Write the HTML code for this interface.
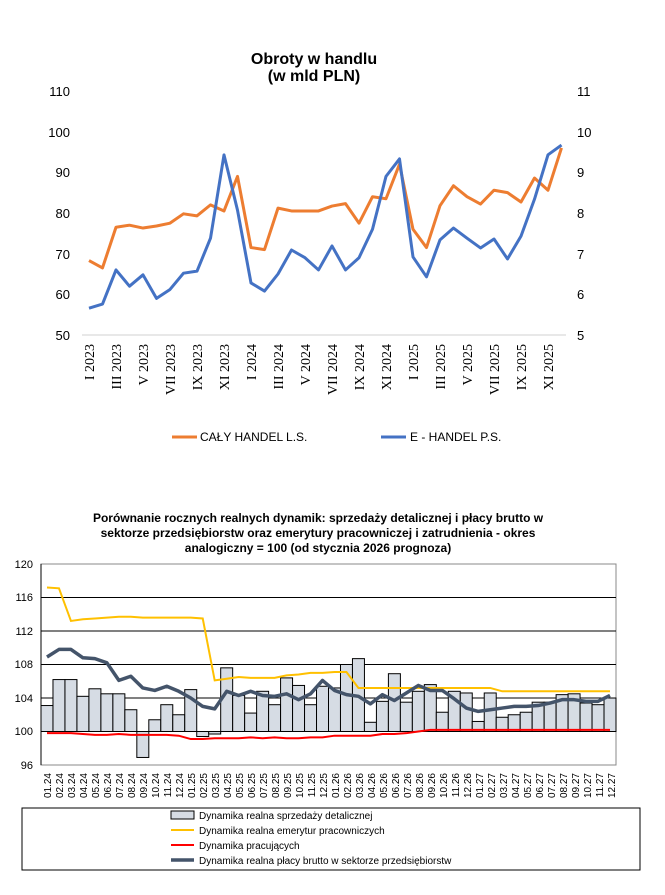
<!DOCTYPE html>
<html><head><meta charset="utf-8"><style>
body{margin:0;background:#fff;}
svg{display:block;font-family:"Liberation Sans",sans-serif;}
</style></head><body>
<svg width="665" height="895" viewBox="0 0 665 895" xmlns="http://www.w3.org/2000/svg">
<rect width="665" height="895" fill="#fff"/>
<text x="314" y="64" text-anchor="middle" font-weight="bold" font-size="16">Obroty w handlu</text>
<text x="314" y="81" text-anchor="middle" font-weight="bold" font-size="16">(w mld PLN)</text>
<line x1="82" y1="335" x2="566" y2="335" stroke="#d0d0d0" stroke-width="1"/>
<g font-size="13" text-anchor="end">
<text x="70" y="96">110</text><text x="70" y="137">100</text><text x="70" y="177">90</text><text x="70" y="218">80</text><text x="70" y="259">70</text><text x="70" y="299">60</text><text x="70" y="340">50</text>
</g>
<g font-size="13" text-anchor="start">
<text x="577" y="96">11</text><text x="577" y="137">10</text><text x="577" y="177">9</text><text x="577" y="218">8</text><text x="577" y="259">7</text><text x="577" y="299">6</text><text x="577" y="340">5</text>
</g>
<g font-family="Liberation Serif, serif" font-size="14" text-anchor="end">
<text transform="translate(94,344) rotate(-90)">I 2023</text>
<text transform="translate(121,344) rotate(-90)">III 2023</text>
<text transform="translate(148,344) rotate(-90)">V 2023</text>
<text transform="translate(175,344) rotate(-90)">VII 2023</text>
<text transform="translate(202,344) rotate(-90)">IX 2023</text>
<text transform="translate(229,344) rotate(-90)">XI 2023</text>
<text transform="translate(256,344) rotate(-90)">I 2024</text>
<text transform="translate(283,344) rotate(-90)">III 2024</text>
<text transform="translate(310,344) rotate(-90)">V 2024</text>
<text transform="translate(337,344) rotate(-90)">VII 2024</text>
<text transform="translate(364,344) rotate(-90)">IX 2024</text>
<text transform="translate(391,344) rotate(-90)">XI 2024</text>
<text transform="translate(418,344) rotate(-90)">I 2025</text>
<text transform="translate(445,344) rotate(-90)">III 2025</text>
<text transform="translate(472,344) rotate(-90)">V 2025</text>
<text transform="translate(499,344) rotate(-90)">VII 2025</text>
<text transform="translate(526,344) rotate(-90)">IX 2025</text>
<text transform="translate(553,344) rotate(-90)">XI 2025</text>
</g>
<polyline id="orange" fill="none" stroke="#ED7D31" stroke-width="3" stroke-linejoin="round"/>
<polyline id="blue" fill="none" stroke="#4472C4" stroke-width="3" stroke-linejoin="round"/>
<line x1="172" y1="437" x2="197" y2="437" stroke="#ED7D31" stroke-width="3"/>
<text x="200" y="441" font-size="12">CAŁY HANDEL L.S.</text>
<line x1="381" y1="437" x2="406" y2="437" stroke="#4472C4" stroke-width="3"/>
<text x="410" y="441" font-size="12">E - HANDEL P.S.</text>

<g font-weight="bold" font-size="12" text-anchor="middle">
<text x="318" y="522">Porównanie rocznych realnych dynamik: sprzedaży detalicznej i płacy brutto w</text>
<text x="318" y="537">sektorze przedsiębiorstw oraz emerytury pracowniczej i zatrudnienia - okres</text>
<text x="318" y="552">analogiczny = 100 (od stycznia 2026 prognoza)</text>
</g>
<rect x="41" y="564" width="575" height="201" fill="none" stroke="#888" stroke-width="1"/>
<g stroke="#000" stroke-width="1">
<line x1="41" y1="597.5" x2="616" y2="597.5"/><line x1="41" y1="631" x2="616" y2="631"/><line x1="41" y1="664.5" x2="616" y2="664.5"/><line x1="41" y1="698" x2="616" y2="698"/>
</g>
<g id="bars"></g>
<line x1="41" y1="731.5" x2="616" y2="731.5" stroke="#000" stroke-width="1"/>
<line x1="41" y1="564" x2="41" y2="765" stroke="#000" stroke-width="1"/>
<polyline id="yellow" fill="none" stroke="#FFC000" stroke-width="2"/>
<polyline id="red" fill="none" stroke="#FF0000" stroke-width="2"/>
<polyline id="dark" fill="none" stroke="#44546A" stroke-width="3.5" stroke-linejoin="round"/>
<g font-size="11" text-anchor="end">
<text x="33" y="568">120</text><text x="33" y="601">116</text><text x="33" y="635">112</text><text x="33" y="668">108</text><text x="33" y="702">104</text><text x="33" y="735">100</text><text x="33" y="769">96</text>
</g>
<g font-size="10" text-anchor="end">
<text transform="translate(51,773) rotate(-90)">01.24</text><text transform="translate(63,773) rotate(-90)">02.24</text><text transform="translate(75,773) rotate(-90)">03.24</text><text transform="translate(87,773) rotate(-90)">04.24</text><text transform="translate(99,773) rotate(-90)">05.24</text><text transform="translate(111,773) rotate(-90)">06.24</text><text transform="translate(123,773) rotate(-90)">07.24</text><text transform="translate(135,773) rotate(-90)">08.24</text><text transform="translate(147,773) rotate(-90)">09.24</text><text transform="translate(159,773) rotate(-90)">10.24</text><text transform="translate(171,773) rotate(-90)">11.24</text><text transform="translate(183,773) rotate(-90)">12.24</text>
<text transform="translate(195,773) rotate(-90)">01.25</text><text transform="translate(207,773) rotate(-90)">02.25</text><text transform="translate(219,773) rotate(-90)">03.25</text><text transform="translate(231,773) rotate(-90)">04.25</text><text transform="translate(243,773) rotate(-90)">05.25</text><text transform="translate(255,773) rotate(-90)">06.25</text><text transform="translate(267,773) rotate(-90)">07.25</text><text transform="translate(279,773) rotate(-90)">08.25</text><text transform="translate(291,773) rotate(-90)">09.25</text><text transform="translate(303,773) rotate(-90)">10.25</text><text transform="translate(315,773) rotate(-90)">11.25</text><text transform="translate(327,773) rotate(-90)">12.25</text>
<text transform="translate(339,773) rotate(-90)">01.26</text><text transform="translate(351,773) rotate(-90)">02.26</text><text transform="translate(363,773) rotate(-90)">03.26</text><text transform="translate(375,773) rotate(-90)">04.26</text><text transform="translate(387,773) rotate(-90)">05.26</text><text transform="translate(399,773) rotate(-90)">06.26</text><text transform="translate(411,773) rotate(-90)">07.26</text><text transform="translate(423,773) rotate(-90)">08.26</text><text transform="translate(435,773) rotate(-90)">09.26</text><text transform="translate(447,773) rotate(-90)">10.26</text><text transform="translate(459,773) rotate(-90)">11.26</text><text transform="translate(471,773) rotate(-90)">12.26</text>
<text transform="translate(483,773) rotate(-90)">01.27</text><text transform="translate(495,773) rotate(-90)">02.27</text><text transform="translate(507,773) rotate(-90)">03.27</text><text transform="translate(519,773) rotate(-90)">04.27</text><text transform="translate(531,773) rotate(-90)">05.27</text><text transform="translate(543,773) rotate(-90)">06.27</text><text transform="translate(555,773) rotate(-90)">07.27</text><text transform="translate(567,773) rotate(-90)">08.27</text><text transform="translate(579,773) rotate(-90)">09.27</text><text transform="translate(591,773) rotate(-90)">10.27</text><text transform="translate(603,773) rotate(-90)">11.27</text><text transform="translate(615,773) rotate(-90)">12.27</text>
</g>
<rect x="22" y="808" width="618" height="62" fill="none" stroke="#000" stroke-width="1"/>
<rect x="171" y="811" width="23" height="8" fill="#D6DCE4" stroke="#000" stroke-width="1"/>
<text x="199" y="819" font-size="10">Dynamika realna sprzedaży detalicznej</text>
<line x1="171" y1="830" x2="194" y2="830" stroke="#FFC000" stroke-width="2"/>
<text x="199" y="834" font-size="10">Dynamika realna emerytur pracowniczych</text>
<line x1="171" y1="845" x2="194" y2="845" stroke="#FF0000" stroke-width="2"/>
<text x="199" y="849" font-size="10">Dynamika pracujących</text>
<line x1="171" y1="860" x2="194" y2="860" stroke="#44546A" stroke-width="3.5"/>
<text x="199" y="864" font-size="10">Dynamika realna płacy brutto w sektorze przedsiębiorstw</text>
</svg>
<script>
(function(){
var o=[68.3,66.5,76.5,77,76.3,76.8,77.5,79.8,79.3,82,80.5,89,71.5,71,81.2,80.5,80.5,80.5,81.7,82.3,77.5,84,83.5,92,76,71.5,81.8,86.7,84,82.2,85.6,85,82.7,88.6,85.6,96];
var b=[5.66,5.76,6.6,6.2,6.48,5.9,6.12,6.52,6.57,7.38,9.43,8.07,6.28,6.08,6.5,7.09,6.9,6.6,7.19,6.6,6.9,7.6,8.9,9.33,6.92,6.43,7.34,7.63,7.38,7.14,7.36,6.87,7.43,8.34,9.43,9.67];
function X(i){return 89+13.5*i;}
document.getElementById('orange').setAttribute('points',o.map(function(v,i){return X(i)+','+(335-(v-50)*4.067);}).join(' '));
document.getElementById('blue').setAttribute('points',b.map(function(v,i){return X(i)+','+(335-(v-5)*40.67);}).join(' '));
var bars=[103.1,106.2,106.2,104.2,105.1,104.5,104.5,102.6,96.9,101.4,103.2,102.0,105.0,99.4,99.7,107.6,104.3,102.2,104.8,103.2,106.4,105.5,103.2,105.4,105.2,108.0,108.7,101.1,103.6,106.9,103.5,104.8,105.6,102.3,104.8,104.6,101.2,104.6,101.7,102.0,102.3,103.5,103.5,104.4,104.5,103.4,103.2,104.0];
var yl=[117.2,117.1,113.2,113.4,113.5,113.6,113.7,113.7,113.6,113.6,113.6,113.6,113.6,113.5,106.1,106.3,106.5,106.4,106.4,106.4,106.7,106.8,107.0,107.0,107.1,107.1,105.2,105.2,105.2,105.2,105.2,105.2,105.2,105.2,105.2,105.2,105.2,105.2,104.8,104.8,104.8,104.8,104.8,104.8,104.8,104.8,104.8,104.8];
var dk=[108.9,109.8,109.8,108.8,108.7,108.2,106.1,106.6,105.2,104.9,105.4,104.8,104.0,103.0,102.7,104.8,104.3,104.8,104.3,104.2,104.5,103.8,104.5,106.1,104.9,104.4,104.2,103.3,104.4,103.7,104.6,105.5,104.9,104.9,103.9,102.8,102.4,102.6,102.8,103.0,103.0,103.1,103.4,103.8,103.8,103.6,103.6,104.3];
var rd=[99.8,99.8,99.8,99.7,99.6,99.6,99.7,99.6,99.6,99.6,99.6,99.5,99.1,99.1,99.2,99.2,99.2,99.3,99.2,99.3,99.2,99.2,99.3,99.3,99.5,99.5,99.5,99.5,99.7,99.7,99.8,100.0,100.2,100.2,100.2,100.2,100.2,100.2,100.2,100.2,100.2,100.2,100.2,100.2,100.2,100.2,100.2,100.2];
function Y(v){return 731.5-(v-100)*8.375;}
var w=575/48,h='';
bars.forEach(function(v,i){var x=41+w*i,y0=Y(100),y1=Y(v);h+='<rect x="'+x.toFixed(2)+'" y="'+Math.min(y0,y1).toFixed(2)+'" width="'+w.toFixed(2)+'" height="'+Math.abs(y1-y0).toFixed(2)+'" fill="#D6DCE4" stroke="#000" stroke-width="1"/>';});
document.getElementById('bars').innerHTML=h;
function P(a){return a.map(function(v,i){return (41+w*(i+0.5)).toFixed(2)+','+Y(v).toFixed(2);}).join(' ');}
document.getElementById('yellow').setAttribute('points',P(yl));
document.getElementById('red').setAttribute('points',P(rd));
document.getElementById('dark').setAttribute('points',P(dk));
})();
</script>
</body></html>
